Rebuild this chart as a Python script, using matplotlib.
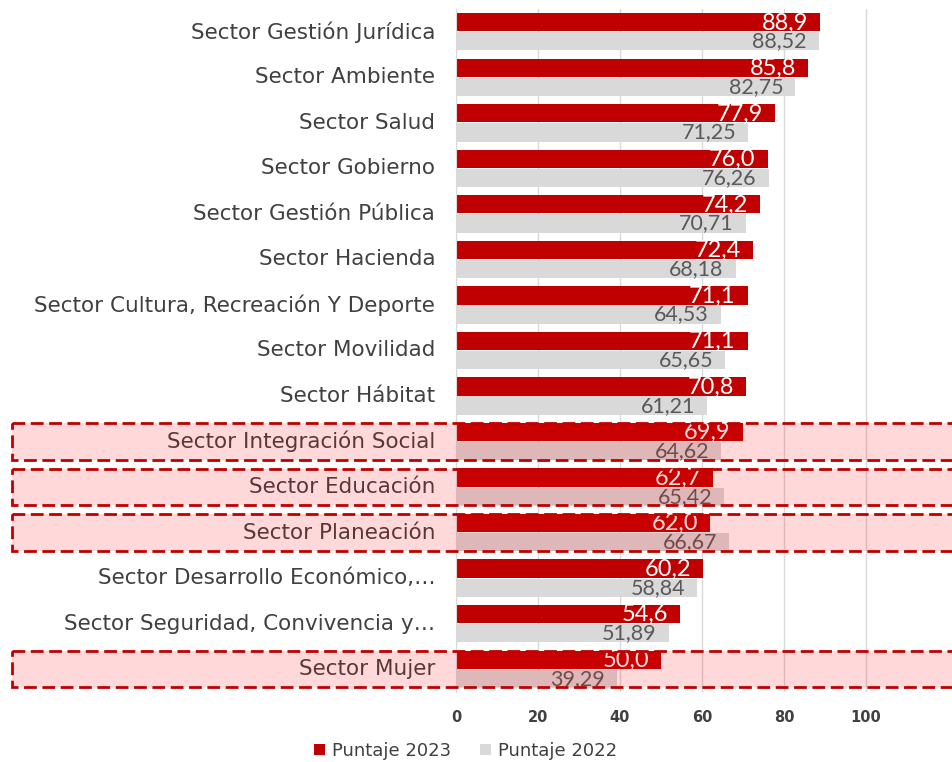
import matplotlib
matplotlib.use("Agg")
import matplotlib.pyplot as plt
import matplotlib.transforms as mtransforms
from matplotlib.patches import Rectangle, Patch
import numpy as np

plt.rcParams['font.family'] = ['DejaVu Sans']

categories = [
    "Sector Gestión Jurídica",
    "Sector Ambiente",
    "Sector Salud",
    "Sector Gobierno",
    "Sector Gestión Pública",
    "Sector Hacienda",
    "Sector Cultura, Recreación Y Deporte",
    "Sector Movilidad",
    "Sector Hábitat",
    "Sector Integración Social",
    "Sector Educación",
    "Sector Planeación",
    "Sector Desarrollo Económico,…",
    "Sector Seguridad, Convivencia y…",
    "Sector Mujer",
]
puntaje_2023 = [88.9, 85.8, 77.9, 76.0, 74.2, 72.4, 71.1, 71.1, 70.8, 69.9, 62.7, 62.0, 60.2, 54.6, 50.0]
puntaje_2022 = [88.52, 82.75, 71.25, 76.26, 70.71, 68.18, 64.53, 65.65, 61.21, 64.62, 65.42, 66.67, 58.84, 51.89, 39.29]
highlighted = ["Sector Integración Social", "Sector Educación", "Sector Planeación", "Sector Mujer"]
x_ticks = [0, 20, 40, 60, 80, 100]

RED = "#c00000"
GRAY = "#d9d9d9"
TXT = "#404040"

fig = plt.figure(figsize=(9.53, 7.62), dpi=100)
ax = fig.add_axes([456/953, 1 - 692/762, (948 - 456)/953, (692 - 9)/762])

y = np.arange(len(categories))
h = 0.4
off = 0.21
ax.barh(y - off, puntaje_2023, height=h, color=RED, zorder=2)
ax.barh(y + off, puntaje_2022, height=h, color=GRAY, zorder=2)

ax.set_ylim(len(categories) - 0.5, -0.5)
ax.set_xlim(0, 120)
ax.set_xticks(x_ticks)
ax.set_xticklabels([str(t) for t in x_ticks], fontweight='bold', fontsize=10.5, color=TXT)
ax.set_yticks(y)
ax.set_yticklabels(categories, fontsize=15.5, color=TXT, va='center')
for lab in ax.get_yticklabels():
    lab.set_y(lab.get_position()[1])
ax.tick_params(axis='y', length=0, pad=15)
ax.tick_params(axis='x', length=0, pad=13)
ax.xaxis.grid(True, color="#d9d9d9", linewidth=1, zorder=0)
ax.set_axisbelow(True)
for s in ['top', 'right', 'bottom']:
    ax.spines[s].set_visible(False)
ax.spines['left'].set_color("#d9d9d9")
ax.spines['left'].set_zorder(3)

for yi, v in zip(y, puntaje_2023):
    ax.annotate(f"{v:.1f}".replace('.', ','), (v, yi - off), xytext=(-8.6, -0.5),
                textcoords='offset points', ha='right', va='center',
                color='white', fontsize=17, zorder=4, fontfamily='Lato')
for yi, v in zip(y, puntaje_2022):
    ax.annotate(f"{v:.2f}".replace('.', ','), (v, yi + off), xytext=(-8.6, 0),
                textcoords='offset points', ha='right', va='center',
                color="#595959", fontsize=15.5, zorder=4, fontfamily='Lato')

trans = mtransforms.blended_transform_factory(fig.transFigure, ax.transData)
for cat in highlighted:
    i = categories.index(cat)
    x0 = 12/953
    rect_fill = Rectangle((x0, i - 0.4), 1.2, 0.8, transform=trans, facecolor=(1, 0, 0, 0.15),
                          edgecolor='none', clip_on=False, zorder=5)
    rect_edge = Rectangle((x0, i - 0.4), 1.2, 0.8, transform=trans, facecolor='none',
                          edgecolor=RED, linewidth=2, linestyle=(0, (4.6, 2)), clip_on=False, zorder=6)
    fig.add_artist(rect_fill)
    fig.add_artist(rect_edge)

handles = [Patch(facecolor=RED, label="Puntaje 2023"), Patch(facecolor=GRAY, label="Puntaje 2022")]
fig.legend(handles=handles, loc='center', bbox_to_anchor=(466/953, 1 - 751/762), ncol=2,
           frameon=False, fontsize=13, handlelength=0.6, handleheight=0.6, handletextpad=0.4,
           columnspacing=1.6, labelcolor=TXT)

fig.savefig("out.png", dpi=100)
